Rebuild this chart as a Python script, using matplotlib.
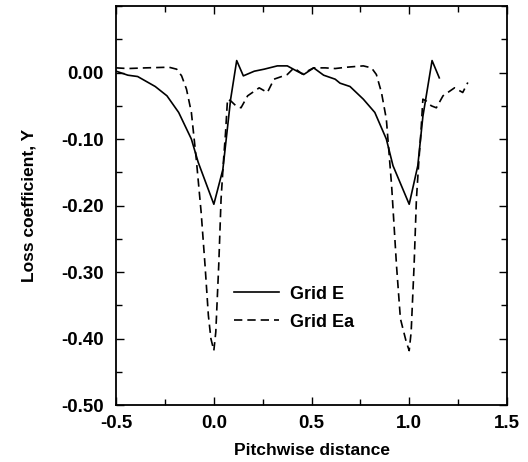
import matplotlib
matplotlib.use('Agg')
import matplotlib.pyplot as plt
from matplotlib.ticker import MultipleLocator, FormatStrFormatter

plt.rcParams['font.family'] = ['Liberation Sans', 'DejaVu Sans']
plt.rcParams['font.weight'] = 'bold'

# Grid E (solid)
x_e = [-0.50, -0.44, -0.39, -0.30, -0.24, -0.18, -0.115, -0.08, 0.0, 0.046, 0.086, 0.117,
       0.151, 0.207, 0.257, 0.325, 0.376, 0.426, 0.46, 0.511, 0.562, 0.621, 0.646, 0.697,
       0.765, 0.824, 0.883, 0.917, 1.0, 1.044, 1.07, 1.117, 1.154]
y_e = [0.002, -0.004, -0.006, -0.021, -0.035, -0.060, -0.100, -0.135, -0.198, -0.146, -0.040, 0.018,
       -0.005, 0.002, 0.005, 0.010, 0.010, 0.002, -0.003, 0.007, -0.004, -0.010, -0.016, -0.021,
       -0.040, -0.060, -0.100, -0.140, -0.198, -0.140, -0.066, 0.018, -0.008]

# Grid Ea (dashed)
x_ea = [-0.50, -0.44, -0.35, -0.23, -0.19, -0.165, -0.14, -0.115, -0.09, -0.065, -0.045, -0.028,
        -0.015, 0.0, 0.01, 0.025, 0.037, 0.05, 0.06, 0.07, 0.088, 0.113, 0.139, 0.173, 0.232,
        0.274, 0.308, 0.376, 0.41, 0.452, 0.511, 0.57, 0.621, 0.68, 0.765, 0.807, 0.832, 0.858,
        0.883, 0.91, 0.935, 0.955, 0.985, 1.0, 1.01, 1.025, 1.037, 1.05, 1.06, 1.07, 1.088,
        1.113, 1.139, 1.173, 1.232, 1.274, 1.30]
y_ea = [0.007, 0.006, 0.007, 0.008, 0.005, -0.005, -0.025, -0.060, -0.130, -0.210, -0.290, -0.365,
        -0.400, -0.418, -0.390, -0.290, -0.190, -0.130, -0.090, -0.040, -0.043, -0.050, -0.053, -0.035, -0.023,
        -0.030, -0.010, -0.003, 0.007, -0.002, 0.007, 0.007, 0.006, 0.008, 0.010, 0.007, -0.003, -0.030,
        -0.070, -0.170, -0.290, -0.370, -0.405, -0.418, -0.390, -0.290, -0.190, -0.130, -0.090, -0.040, -0.043,
        -0.050, -0.053, -0.035, -0.023, -0.030, -0.015]

fig = plt.figure(figsize=(5.28, 4.62), dpi=100)
ax = fig.add_axes([0.220, 0.123, 0.740, 0.864])

ax.plot(x_e, y_e, color='black', linewidth=1.2, label='Grid E')
ax.plot(x_ea, y_ea, color='black', linewidth=1.2, linestyle=(0, (5, 3)), label='Grid Ea')

ax.set_xlim(-0.5, 1.5)
ax.set_ylim(-0.5, 0.1)
ax.xaxis.set_major_locator(MultipleLocator(0.5))
ax.xaxis.set_minor_locator(MultipleLocator(0.25))
ax.yaxis.set_major_locator(MultipleLocator(0.1))
ax.yaxis.set_minor_locator(MultipleLocator(0.05))
ax.xaxis.set_major_formatter(FormatStrFormatter('%.1f'))
ax.yaxis.set_major_formatter(FormatStrFormatter('%.2f'))
ax.set_yticks([0.0, -0.1, -0.2, -0.3, -0.4, -0.5])
ax.tick_params(which='both', direction='in', top=True, right=True, labelsize=13.5)
ax.tick_params(which='major', length=6, width=1)
ax.tick_params(which='minor', length=4, width=1)
ax.tick_params(axis='y', pad=9)
ax.tick_params(axis='x', pad=7)
for s in ax.spines.values():
    s.set_linewidth(1.3)

ax.set_xlabel('Pitchwise distance', fontsize=12.5, fontweight='bold', labelpad=8)
ax.set_ylabel('Loss coefficient, Y', fontsize=12.5, fontweight='bold', labelpad=18)

ax.legend(loc='upper left', bbox_to_anchor=(0.26, 0.34), frameon=False, fontsize=13,
          handlelength=2.5, handletextpad=0.6, labelspacing=0.6)

fig.savefig('out.png', dpi=100)
